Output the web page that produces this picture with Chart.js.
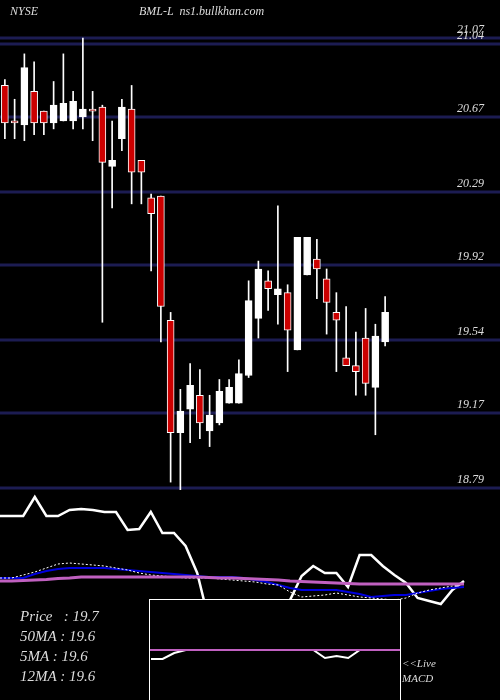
<!DOCTYPE html>
<html><head><meta charset="utf-8">
<script src="https://cdn.jsdelivr.net/npm/chart.js@4/dist/chart.umd.min.js"></script>
<style>
body{margin:0;background:#000;width:500px;height:700px;overflow:hidden;position:relative;font-family:"Liberation Serif",serif;font-style:italic;color:#ddd}
canvas{position:absolute}
.t{position:absolute;white-space:pre}
</style></head><body>
<canvas id="price" style="left:0px;top:0px" width="500" height="490"></canvas>
<canvas id="ind" style="left:0px;top:490px" width="500" height="210"></canvas>
<div id="mbox" style="position:absolute;left:149px;top:599px;width:250px;height:100px;border:1px solid #fff;background:#000"><canvas id="macd" width="250" height="100" style="left:0px;top:0px"></canvas></div>
<div class="t" style="left:10px;top:4px;font-size:12px">NYSE</div>
<div class="t" style="left:139px;top:4px;font-size:12px">BML-L  ns1.bullkhan.com</div>
<div class="t" style="left:20px;top:608px;font-size:15px">Price   : 19.7</div>
<div class="t" style="left:20px;top:628px;font-size:15px">50MA : 19.6</div>
<div class="t" style="left:20px;top:648px;font-size:15px">5MA : 19.6</div>
<div class="t" style="left:20px;top:668px;font-size:15px">12MA : 19.6</div>
<div class="t" style="left:402px;top:657px;font-size:11px">&lt;&lt;Live</div>
<div class="t" style="left:402px;top:672px;font-size:11px">MACD</div>
<script>
const openP =[20.83,20.65,20.63,20.80,20.70,20.64,20.65,20.65,20.67,20.71,20.72,20.42,20.56,20.71,20.45,20.26,20.27,19.64,19.07,19.19,19.26,19.08,19.12,19.22,19.22,19.36,19.65,19.84,19.77,19.78,19.49,19.87,19.95,19.85,19.68,19.45,19.41,19.55,19.30,19.53];
const closeP=[20.64,20.64,20.92,20.64,20.64,20.73,20.74,20.75,20.71,20.70,20.44,20.45,20.72,20.39,20.39,20.18,19.71,19.07,19.18,19.31,19.12,19.16,19.28,19.30,19.37,19.74,19.90,19.80,19.80,19.59,20.06,20.06,19.90,19.73,19.64,19.41,19.38,19.32,19.56,19.68];
const highP =[20.86,20.76,20.99,20.95,20.70,20.85,20.99,20.80,21.07,20.80,20.73,20.65,20.76,20.83,20.45,20.28,20.27,19.68,19.29,19.42,19.39,19.26,19.34,19.34,19.44,19.84,19.94,19.89,20.22,19.82,20.06,20.06,20.05,19.90,19.78,19.71,19.58,19.70,19.62,19.76];
const lowP  =[20.56,20.56,20.55,20.58,20.58,20.61,20.65,20.61,20.61,20.55,19.63,20.21,20.50,20.23,20.23,19.89,19.53,18.82,18.78,19.02,19.04,19.00,19.11,19.22,19.22,19.35,19.55,19.69,19.62,19.38,19.49,19.87,19.75,19.57,19.38,19.41,19.26,19.26,19.06,19.51];
const priceTicks=[21.07,21.04,20.67,20.29,19.92,19.54,19.17,18.79];
const oscLine =[516,516,516,497,516,516,510,509,510,512,512,530,529,512,533,533,546,573,620,640,650,650,645,630,615,600,576,566,573,573,587,555,555,566,575,583,598,601,604,590,581];
const ma12Line=[578,578,578,574,571,569,568,568,568,568,569,570,571,572,573,574,575,576,577,577,577,578,580,582,585,588,590,590,590,590,592,594,597,596,595,595,593,591,589,588,587];
const ma50Line=[581,581,580.5,580,579.5,578.5,578,577,577,577,577,577,577,577,577,577,577,577,577.5,578,578,578.5,579,579.5,580,581,581.5,582,582.5,583,583.5,584,584,584,584,584,584,584,584,584,584];
const ma5Line =[578,578,575,572,568,564,563,564,565,566,568,570,573,575,576,577,578,578,578,579,580,581,582,584,585,592,597,596,595,593,595,597,598,599,600,598,593,590,588,586,584];
const macdLine=[659,659,653,650,650,650,650,650,650,650,650,650,650,650,650,658,656,658,650,650,650];
const signalLine=[650,650];

const labels=openP.map((_,i)=>i);
const gridPlugin={id:'g',beforeDatasetsDraw(c){const y=c.scales.y,x=c.ctx;x.save();x.strokeStyle='#1c1c52';x.lineWidth=3;
 priceTicks.forEach(v=>{const p=y.getPixelForValue(v);x.beginPath();x.moveTo(0,p);x.lineTo(500,p);x.stroke();});x.restore();},
 afterDraw(c){const y=c.scales.y,x=c.ctx;x.save();x.fillStyle='#ddd';x.font='italic 12px "Liberation Serif"';x.textAlign='right';
 priceTicks.forEach(v=>{const p=y.getPixelForValue(v);x.fillText(v.toFixed(2),484,p-5);});x.restore();}};
new Chart(document.getElementById('price'),{type:'bar',
 data:{labels,datasets:[
  {data:labels.map(i=>[openP[i],closeP[i]]),backgroundColor:labels.map(i=>closeP[i]<openP[i]?'#cc0000':'#ffffff'),borderColor:'#fff',borderWidth:1,barThickness:7,minBarLength:2,grouped:false,order:1,borderSkipped:false},
  {data:labels.map(i=>[lowP[i],highP[i]]),backgroundColor:'#fff',barThickness:1,grouped:false,order:2}]},
 options:{responsive:false,animation:false,layout:{padding:{left:-2,right:110,top:0,bottom:0}},
  plugins:{legend:{display:false},tooltip:{enabled:false}},
  scales:{x:{display:false},y:{display:false,min:18.78,max:21.263}}},plugins:[gridPlugin]});

const mk=(arr,col,w,dash)=>({data:arr.map((v,i)=>({x:i*11.6,y:v})),borderColor:col,borderWidth:w,borderDash:dash||[],pointRadius:0,tension:0});
new Chart(document.getElementById('ind'),{type:'line',
 data:{datasets:[mk(ma50Line,'#c060c0',3),mk(ma5Line,'#ffffff',1,[2,2]),mk(ma12Line,'#0000dd',2),mk(oscLine,'#ffffff',2.5)]},
 options:{responsive:false,animation:false,layout:{padding:0},plugins:{legend:{display:false},tooltip:{enabled:false}},
  scales:{x:{type:'linear',display:false,min:0,max:500},y:{display:false,reverse:true,min:490,max:700}}}});

new Chart(document.getElementById('macd'),{type:'line',
 data:{datasets:[{data:[{x:-1,y:650},{x:251,y:650}],borderColor:'#c060c0',borderWidth:2,pointRadius:0},
  {data:macdLine.map((v,i)=>({x:1+i*11.6,y:v})),borderColor:'#fff',borderWidth:2,pointRadius:0}]},
 options:{responsive:false,animation:false,layout:{padding:0},plugins:{legend:{display:false},tooltip:{enabled:false}},
  scales:{x:{type:'linear',display:false,min:0,max:250},y:{display:false,reverse:true,min:600,max:700}}}});
</script></body></html>
